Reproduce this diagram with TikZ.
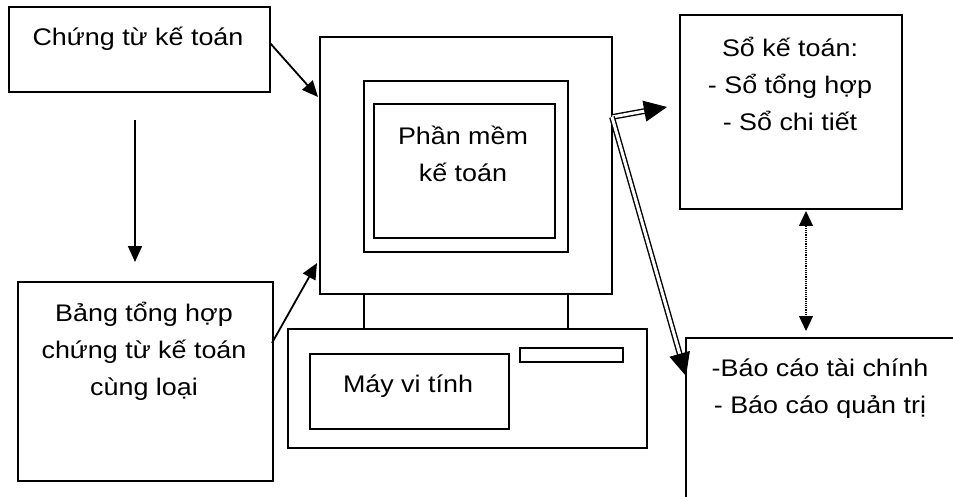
\documentclass[tikz,border=0pt]{standalone}
\usepackage{fontspec}
\setmainfont{Liberation Sans}[FakeStretch=1.12]
\usetikzlibrary{arrows.meta,calc}
\begin{document}
\begin{tikzpicture}[x=1pt,y=-1pt,
  box/.style={draw,line width=2pt,anchor=north west,inner sep=0pt},
  thinbox/.style={draw,line width=1.5pt,anchor=north west,inner sep=0pt},
  txt/.style={align=center,font=\fontsize{24}{37}\selectfont,inner sep=0pt},
  arr/.style={line width=1.8pt,-{Triangle[length=16pt,width=14pt]}},
  dbl/.style={line width=1.4pt,double,double distance=3pt},
  bighead/.style={line width=1pt,-{Triangle[length=23pt,width=21pt]}},
  dotarr/.style={line width=1.2pt,densely dotted,{Triangle[length=15pt,width=14pt]}-{Triangle[length=15pt,width=14pt]}}]
\useasboundingbox (0,0) rectangle (953,497);
\clip (0,0) rectangle (953,497);
% left boxes
\node[box,minimum width=261pt,minimum height=85pt] (ct) at (8,6) {};
\node[txt] (ctt) at (138,39) {Chứng từ kế toán};
\node[box,minimum width=255pt,minimum height=199pt] (bth) at (17,281) {};
\node[txt] (btht) at (144,351) {Bảng tổng hợp\\chứng từ kế toán\\cùng loại};
% monitor
\node[box,minimum width=292pt,minimum height=257pt] (mon) at (319,36) {};
\node[box,minimum width=204pt,minimum height=171pt] (scr) at (363,80) {};
\node[box,minimum width=181pt,minimum height=134pt] (pm) at (373,103) {};
\node[txt] (pmt) at (463,154) {Phần mềm\\kế toán};
% stand
\draw[line width=2pt] (364,293) -- (364,328);
\draw[line width=1.5pt] (568,293) -- (568,328);
% base unit
\node[box,minimum width=359pt,minimum height=119pt] (base) at (287,328) {};
\node[box,minimum width=199pt,minimum height=75pt] (may) at (309,353) {};
\node[txt] (mayt) at (408,386) {Máy vi tính};
\node[thinbox,minimum width=103pt,minimum height=14pt] (slot) at (519,347) {};
% right boxes
\node[box,minimum width=222pt,minimum height=194pt] (so) at (679,14) {};
\node[txt] (sot) at (790,84) {Sổ kế toán:\\- Sổ tổng hợp\\- Sổ chi tiết};
\node[box,minimum width=300pt,minimum height=200pt] (bc) at (685,337) {};
\node[txt] (bct) at (820,389) {-Báo cáo tài chính\\- Báo cáo quản trị};
% connectors
\coordinate (a1s) at (270,43);
\coordinate (a1e) at (318,97);
\coordinate (a2s) at (272,343);
\coordinate (a2e) at (317,263);
\coordinate (vs) at (135,120);
\coordinate (ve) at (135,262);
\draw[arr] (a1s) -- (a1e);
\draw[arr] (a2s) -- (a2e);
\draw[arr] (vs) -- (ve);
\coordinate (o) at (612,117);
\coordinate (t1) at (667,107);
\coordinate (t2) at (686,376);
\draw[dbl] (o) -- ($(t1)!20pt!(o)$);
\draw[bighead] ($(t1)!21pt!(o)$) -- (t1);
\draw[dbl] (o) -- ($(t2)!22pt!(o)$);
\draw[bighead] ($(t2)!23pt!(o)$) -- (t2);
\coordinate (d1) at (806,211);
\coordinate (d2) at (806,331);
\draw[dotarr] (d1) -- (d2);
\end{tikzpicture}
\end{document}
